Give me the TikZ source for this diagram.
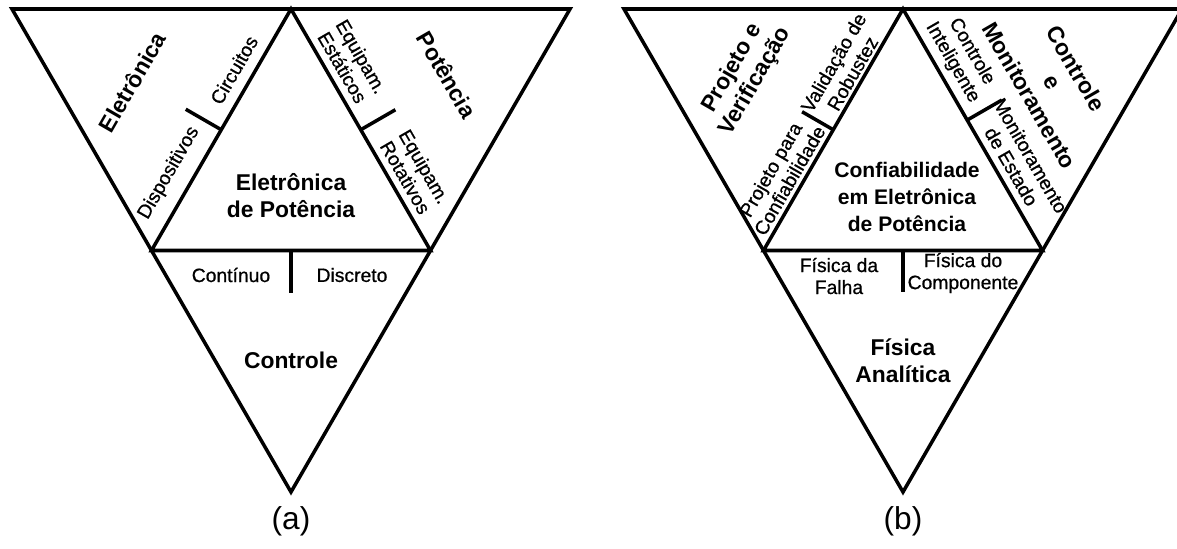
\documentclass[tikz,border=0pt]{standalone}
\usepackage{fontspec}
\setmainfont{Liberation Sans}
\usetikzlibrary{calc}

% text sizes used in the figure
\newcommand\labelfont{\fontsize{11}{12.5}\selectfont\addfontfeatures{FakeBold=0.7}}
\newcommand\titlefont{\fontsize{13}{15.3}\selectfont\bfseries}
\newcommand\corefont{\fontsize{12}{15.3}\selectfont\bfseries}

\begin{document}
\begin{tikzpicture}[x=0.02cm, y=-0.02cm,
  edge/.style={line width=2pt, line join=miter},
  tick/.style={line width=2pt},
  big/.style={font=\titlefont, align=center, inner sep=0pt},
  mid/.style={font=\corefont, align=center, inner sep=0pt},
  small/.style={font=\labelfont, align=center, inner sep=0pt},
  caption/.style={font=\fontsize{18}{20}\selectfont, inner sep=0pt}]
\useasboundingbox (0,0) rectangle (1177,548);
\fill[white] (0,0) rectangle (1177,548);

% ---------- (a) ----------
\coordinate (a1) at (12,9);
\coordinate (a2) at (570,9);
\coordinate (a3) at (291,492);
\coordinate (at) at (291,9);
\coordinate (al) at (151.5,250.5);
\coordinate (ar) at (430.5,250.5);
\draw[edge] (a1) -- (a2) -- (a3) -- cycle;
\draw[edge] (at) -- (al) -- (ar) -- cycle;

\coordinate (aml) at ($(at)!0.5!(al)$);
\coordinate (amr) at ($(at)!0.5!(ar)$);
\coordinate (amb) at ($(al)!0.5!(ar)$);
\coordinate (atl) at ($(aml)!0.82cm!90:(at)$);
\coordinate (atr) at ($(amr)!0.80cm!-90:(at)$);
\coordinate (atb) at ($(amb)!0.85cm!-90:(ar)$);
\draw[tick] (aml) -- (atl);
\draw[tick] (amr) -- (atr);
\draw[tick] (amb) -- (atb);

\node[big, rotate=60] (eletronica) at (132,82) {Eletrônica};
\node[small, rotate=60] (circuitos) at (234,70) {Circuitos};
\node[small, rotate=60] (dispositivos) at (169,173) {Dispositivos};
\node[big, rotate=-60] (potencia) at (447,75) {Potência};
\node[small, rotate=-60] (estaticos) at (352,62) {Equipam.\\Estáticos};
\node[small, rotate=-60] (rotativos) at (415,172) {Equipam.\\Rotativos};
\node[big] (eletpot) at (291,196) {Eletrônica\\de Potência};
\node[small] (continuo) at (231,275) {Contínuo};
\node[small] (discreto) at (352,275) {Discreto};
\node[big] (controle) at (291,360) {Controle};
\node[caption] (capa) at (291,521) {(a)};

% ---------- (b) ----------
\coordinate (b1) at (624,9);
\coordinate (b2) at (1182,9);
\coordinate (b3) at (903,492);
\coordinate (bt) at (903,9);
\coordinate (bl) at (763.5,250.5);
\coordinate (br) at (1042.5,250.5);
\draw[edge] (b1) -- (b2) -- (b3) -- cycle;
\draw[edge] (bt) -- (bl) -- (br) -- cycle;

\coordinate (bml) at ($(bt)!0.5!(bl)$);
\coordinate (bmr) at ($(bt)!0.46!(br)$);
\coordinate (bmb) at ($(bl)!0.5!(br)$);
\coordinate (btl) at ($(bml)!0.72cm!90:(bt)$);
\coordinate (btr) at ($(bmr)!0.80cm!-90:(bt)$);
\coordinate (btb) at ($(bmb)!0.84cm!-90:(br)$);
\draw[tick] (bml) -- (btl);
\draw[tick] (bmr) -- (btr);
\draw[tick] (bmb) -- (btb);

\node[big, rotate=60] (projver) at (744,75) {Projeto e\\Verificação};
\node[small, rotate=60] (validacao) at (843,68) {Validação de\\Robustez};
\node[small, rotate=60] (projconf) at (780,175) {Projeto para\\Confiabilidade};
\node[mid] (confiab) at (907,197) {Confiabilidade\\em Eletrônica\\de Potência};
\node[big, rotate=-60] (contmon) at (1053,82) {Controle\\e\\Monitoramento};
\node[small, rotate=-60] (inteligente) at (962,57) {Controle\\Inteligente};
\node[small, rotate=-60] (estado) at (1021,161) {Monitoramento\\de Estado};
\node[small] (falha) at (839,276) {Física da\\Falha};
\node[small] (componente) at (963,273) {Física do\\Componente};
\node[big] (analitica) at (903,361) {Física\\Analítica};
\node[caption] (capb) at (903,521) {(b)};
\end{tikzpicture}
\end{document}
